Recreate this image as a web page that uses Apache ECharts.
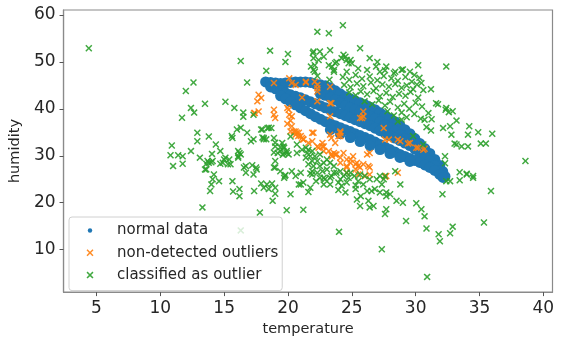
<!DOCTYPE html>
<html>
<head>
<meta charset="utf-8">
<script src="https://cdn.jsdelivr.net/npm/echarts@6.0.0/dist/echarts.min.js"></script>
<style>html,body{margin:0;padding:0;background:#fff}#c{width:564px;height:342px}</style>
</head>
<body>
<div id="c"></div>
<script>
// ---- Data ----
const xTicks = [5, 10, 15, 20, 25, 30, 35, 40];
const yTicks = [10, 20, 30, 40, 50, 60];
const seriesNames = ['normal data', 'non-detected outliers', 'classified as outlier'];

const normalData = [
  // upper strand with top loop
  [18.25,45.74],[18.64,45.64],[19.03,45.53],[19.42,45.42],[19.81,45.53],[20.20,45.64],[20.59,45.74],[20.98,45.74],[21.37,45.74],[21.76,45.64],
  [22.15,45.32],[22.54,45.11],[22.93,44.90],[23.32,44.47],[23.71,43.83],[24.10,43.20],[24.49,42.56],[24.88,42.14],[25.26,41.72],[25.65,41.29],
  [26.04,40.87],[26.43,40.34],[26.82,39.81],[27.21,39.18],[27.60,38.54],[27.99,37.90],[28.38,37.27],[28.77,36.42],[29.16,35.57],[29.55,34.72],
  [29.94,33.67],[30.33,32.61],[30.72,31.55],[31.11,30.49],[31.50,29.22],[31.89,27.94],[32.12,26.67],[32.30,25.60],
  // second strand
  [22.54,43.20],[22.93,42.88],[23.32,42.46],[23.71,41.93],[24.10,41.29],[24.49,40.66],[24.88,40.23],[25.26,39.81],[25.65,39.39],[26.04,38.96],
  [26.43,38.43],[26.82,37.90],[27.21,37.27],[27.60,36.63],[27.99,36.00],[28.38,35.36],[28.77,34.51],[29.16,33.67],[29.55,32.82],[29.94,31.76],[30.33,30.70],
  // middle strand
  [18.64,44.68],[19.03,44.26],[19.42,43.83],[19.81,43.41],[20.20,42.99],[20.59,42.67],[20.98,42.35],[21.37,41.93],[21.76,41.50],[22.15,41.08],
  [22.54,40.66],[22.93,40.23],[23.32,39.81],[23.71,39.39],[24.10,38.96],[24.49,38.54],[24.88,38.12],[25.26,37.69],[25.65,37.27],[26.04,36.84],
  [26.43,36.42],[26.82,35.89],[27.21,35.36],[27.60,34.83],[27.99,34.30],[28.38,33.77],[28.77,33.24],[29.16,32.71],[29.55,32.18],[29.94,31.44],
  [30.33,30.70],[30.72,29.85],[31.11,29.01],[31.50,27.94],[31.89,26.88],
  // lower strand
  [19.42,42.78],[19.81,42.14],[20.20,41.50],[20.59,40.87],[20.98,40.23],[21.37,39.60],[21.76,38.96],[22.15,38.33],[22.54,37.80],[22.93,37.27],
  [23.32,36.84],[23.71,36.42],[24.10,35.99],[24.49,35.57],[24.88,35.15],[25.26,34.72],[25.65,34.30],[26.04,33.88],[26.43,33.45],[26.82,32.92],
  [27.21,32.39],[27.60,31.86],[27.99,31.33],[28.38,30.80],[28.77,30.28],[29.16,29.85],[29.55,29.43],[29.94,29.01],[30.33,28.58],[30.72,28.05],
  [31.11,27.52],[31.50,26.88],[31.89,26.04],[32.15,25.40],
  // bottom strand
  [23.32,35.57],[24.10,34.72],[24.88,33.88],[25.65,33.03],[26.43,32.18],[27.21,31.33],[27.99,30.49],[28.77,29.64],[29.55,28.79]
];

const nonDetected = [
  [17.7,43.0],[17.9,42.3],[17.6,41.6],[17.4,39.1],[17.7,39.45],[18.9,39.8],[18.9,38.75],[19.0,38.05],[19.95,40.2],[20.1,38.75],
  [20.2,37.5],[19.95,36.8],[20.3,36.3],[20.6,35.2],[20.8,34.2],[18.9,45.5],[20.1,46.5],[20.3,45.5],
  [21.4,45.6],[22.3,45.1],[22.3,43.7],[23.3,44.7],[23.3,41.2],[21.1,42.4],[22.3,41.6],[20.7,34.9],[21.2,33.5],[21.9,34.9],
  [23.3,38.4],[24.1,35.2],[23.95,34.15],[23.4,33.8],[22.7,32.75],[25.65,38.05],[25.9,38.4],[25.9,39.45],
  [20.6,45.1],[21.4,45.8],[22.1,45.8],[22.3,44.4],[23.4,41.2],[25.8,38.05],[20.05,39.8],[20.3,38.4],[20.2,35.2],[21.0,34.2],[24.1,34.2],
  [22.8,32.0],[22.4,31.7],[23.7,32.75],[23.6,30.6],[23.45,29.9],[23.8,30.3],[24.1,28.5],[24.6,27.8],[25.4,28.5],[25.65,27.5],
  [25.9,28.2],[26.3,27.8],[26.4,30.6],[27.5,35.9],[27.6,33.45],[27.9,33.45],[28.6,33.45],[29.4,32.6],[30.05,31.7],[30.6,31.3],
  [28.6,26.4],[26.4,26.0],[26.05,25.7],[24.6,26.4],[25.5,26.0],[27.7,25.7],
  [28.8,33.1],[29.55,32.75],[30.2,31.7],[30.7,31.5],[26.2,30.3],[24.35,30.6],[24.9,29.2],[25.5,27.8],[26.4,27.5],[25.3,27.1],[27.6,25.55],
  [17.35,39.1],[20.45,35.2],[20.6,34.5],[20.85,34.9],[21.1,33.8],[21.2,33.45],[21.6,32.75],[21.9,33.1],[22.0,34.9],[22.3,32.0],
  [22.7,32.0],[22.8,31.0],[23.2,31.0],[23.3,34.5],[23.4,30.3],[23.7,30.3],[24.1,34.9],[24.1,29.6],[24.6,29.2],[24.9,28.5],
  [24.6,27.5],[25.3,28.2],[25.1,29.9]
];

const classified = [
  [4.4,52.9],
  [16.3,50.2],[18.6,52.4],[20.0,51.7],[19.8,50.0],[18.3,48.1],[16.8,45.6],[12.6,45.6],[12.0,43.8],[12.4,40.2],[12.65,39.2],
  [11.7,38.1],[13.5,41.1],[15.1,41.5],[15.8,40.2],[16.5,39.2],[16.5,38.3],[17.3,38.75],
  [16.3,36.0],[16.0,35.6],[15.6,34.2],[16.8,34.9],[17.3,33.5],[17.1,33.1],[17.9,35.6],[18.5,36.0],[18.7,35.9],[18.0,33.9],
  [18.3,33.5],[19.0,32.8],[18.9,30.7],[19.4,31.8],[19.65,32.0],[20.2,34.1],[18.9,33.8],[19.55,32.75],
  [12.9,34.9],[12.9,33.1],[13.8,34.1],[14.35,32.4],[14.7,31.0],[10.9,32.2],[10.8,30.1],[11.4,30.1],[11.75,29.9],[12.4,31.0],
  [11.0,27.8],[11.75,28.3],[13.1,29.6],[13.6,27.1],[13.8,28.5],[14.0,28.6],[14.9,28.5],[15.0,29.2],[15.4,29.2],[15.3,28.2],
  [16.2,30.6],[16.1,29.9],[16.55,27.5],[16.7,26.4],[17.2,28.0],[17.55,27.1],[14.2,26.0],[19.0,27.5],[19.8,25.9],[20.3,26.7],
  [19.6,30.2],[19.9,30.6],[20.7,32.4],
  [14.05,30.4],[13.6,28.3],[13.7,28.9],[14.1,28.9],[13.5,27.1],[15.1,29.6],[14.7,28.3],[15.5,28.2],[14.1,25.0],[14.0,23.9],
  [13.9,22.5],[14.6,24.6],[13.3,19.0],[15.65,24.6],[15.7,22.4],[16.2,22.9],[16.2,21.4],[16.1,31.0],[16.3,30.3],[16.1,29.6],
  [15.65,33.8],[18.1,33.8],
  [17.9,24.1],[18.1,23.2],[18.5,22.9],[18.35,23.9],[18.75,24.1],[19.0,23.2],[19.0,21.9],[17.35,22.5],[18.8,20.4],[17.8,17.9],
  [19.9,18.4],[20.2,21.8],[20.85,23.9],[21.0,26.4],[19.75,25.7],[19.7,31.7],[19.4,31.0],[19.2,30.6],[19.9,31.0],[20.05,30.3],
  [20.7,30.6],[16.3,14.1],
  [18.0,35.6],[18.4,35.9],[18.1,33.5],[19.0,32.0],[16.7,27.8],[17.5,27.5],[17.3,26.0],[18.9,27.5],[19.0,28.9],[19.7,30.6],
  [19.4,26.7],[20.6,25.7],[21.2,24.3],[21.75,23.2],[19.7,25.3],
  [21.2,18.5],[21.0,23.9],[21.6,22.3],[21.75,26.25],[21.9,26.7],[22.2,24.6],
  [22.8,25.3],[22.8,23.9],[23.3,25.3],[23.3,23.9],[23.6,26.4],[23.95,24.3],[23.95,22.7],[24.2,23.6],[24.5,22.2],[24.75,25.3],
  [25.3,23.7],[25.3,22.9],[25.5,24.6],[25.4,20.7],[25.65,19.3],[25.7,21.4],[25.9,23.9],[26.2,22.5],[26.3,20.4],[26.4,19.0],
  [26.7,19.3],[26.55,22.5],[26.8,22.9],[27.2,22.2],[27.35,23.9],[27.5,25.0],[27.7,21.4],[27.7,22.2],[28.0,21.8],[27.7,18.6],
  [27.6,17.6],[28.5,20.4],[28.8,23.9],[29.0,20.0],[28.4,26.7],[26.4,25.0],[26.95,25.0],[27.2,25.7],[27.6,25.7],[26.0,25.7],
  [25.65,26.0],[25.2,25.7],[24.6,26.4],[24.1,26.7],[24.0,13.8],[27.35,10.1],[29.25,16.1],[30.05,19.9],[30.45,18.6],[30.7,17.1],
  [30.85,14.5],[30.9,4.2],[31.8,13.3],[31.9,11.8],[32.7,13.5],[32.9,14.9],[32.1,21.8],[32.4,24.6],[32.7,24.6],[33.45,24.8],
  [34.0,26.2],[34.5,25.3],[35.9,22.5],[35.35,15.8],
  [24.3,57.8],[22.3,56.4],[23.2,56.1],[22.0,52.2],[22.5,52.2],[23.3,52.5],[22.8,51.1],[22.0,50.8],[21.8,49.0],[22.0,48.3],
  [22.3,47.0],[23.2,49.3],[23.45,49.0],[23.7,49.7],[23.6,48.3],[23.8,50.0],[24.2,50.8],[24.35,51.5],[24.6,50.4],[24.75,49.7],
  [21.95,51.9],[22.4,50.4],[22.1,49.3],[22.1,47.9],[23.6,47.9],[23.25,46.2],[24.9,50.4],[25.0,49.7],[24.5,51.1],
  [25.65,52.9],[26.4,50.8],[27.0,50.0],[27.7,49.0],[27.2,47.9],[28.4,47.9],[28.9,48.3],[29.55,47.9],[30.2,49.3],[32.4,49.0],
  [31.2,44.2],[30.45,45.5],[31.6,41.2],[32.4,40.2],[32.9,39.5],[32.15,35.9],[32.7,36.3],[32.8,34.5],[34.2,36.3],[34.1,34.5],
  [34.9,35.0],[36.0,34.7],[33.2,32.4],[33.6,32.0],[34.1,32.0],[35.1,32.6],[35.5,32.6],[32.3,29.9],[32.3,28.4],[38.6,28.9],
  [30.7,37.7],[31.0,39.1],[30.85,36.1],[29.8,34.2],[28.6,37.3],[28.9,37.7],[30.6,32.4],[34.0,26.0],[34.5,25.7],[33.45,26.5],
  [31.75,41.0],[32.35,39.8],[32.6,39.3],[31.25,37.8],[33.2,37.5],[31.2,35.4],[33.05,32.6],
  // dense cluster above the band
  [24.6,47.9],[25.5,48.6],[26.2,48.3],[26.9,49.0],[27.6,48.2],[28.3,47.6],[29.0,48.4],[29.9,47.2],[30.3,46.6],
  [24.3,46.8],[24.8,46.2],[25.3,47.2],[25.8,46.4],[26.4,46.9],[27.0,46.1],[27.5,47.0],[28.1,46.5],[28.6,46.0],[29.2,46.8],[29.7,45.8],[30.1,45.2],
  [24.4,45.1],[24.9,44.6],[25.4,45.4],[25.9,44.8],[26.5,45.6],[26.9,44.4],[27.4,45.2],[27.9,44.7],[28.4,45.3],[28.9,44.5],[29.3,45.0],[29.8,44.2],[30.6,44.0],
  [24.8,43.5],[25.3,42.9],[25.7,43.7],[26.2,43.1],[26.7,43.8],[27.2,42.7],[27.7,43.4],[28.2,42.5],[28.7,43.2],[29.2,42.8],[29.6,43.6],[30.2,42.4],
  [26.0,41.6],[26.6,41.0],[27.1,41.8],[27.6,40.7],[28.0,41.5],[28.6,40.3],[29.1,41.1],[29.5,40.0],[30.0,41.3],[30.5,40.5],
  [27.8,39.5],[28.3,38.6],[28.9,39.2],[29.3,38.2],[29.9,38.9],[30.4,37.9],
  // dense cluster below the band
  [21.1,31.3],[21.4,31.7],[21.6,31.3],[21.9,31.0],[21.5,30.6],[21.4,29.6],[21.75,29.9],[22.1,29.9],[22.5,30.3],[22.3,28.9],
  [21.9,28.9],[21.6,28.2],[22.0,27.8],[22.5,27.8],[22.8,28.5],[23.05,29.2],[23.3,28.5],[23.6,27.8],[23.05,27.1],[22.7,26.7],
  [22.3,26.4],[21.9,26.0],[22.5,25.3],[22.9,25.0],[23.4,25.7],[23.8,26.4],[24.1,25.0],[24.35,25.7],[24.6,24.3],[24.9,26.4]
];

// ---- Styling ----
const COLORS = ['#1f77b4', '#ff7f0e', '#2ca02c'];
const X_SYMBOL = 'path://M0,1.5L1.5,0L5,3.5L8.5,0L10,1.5L6.5,5L10,8.5L8.5,10L5,6.5L1.5,10L0,8.5L3.5,5Z';
const LEG_DOT = 'path://M0,0M40,14M20.2,7A2.2,2.2,0,1,1,15.8,7A2.2,2.2,0,1,1,20.2,7Z';
const LEG_X = 'path://M0,0M40,14M14.5,4.55L15.55,3.5L18,5.95L20.45,3.5L21.5,4.55L19.05,7L21.5,9.45L20.45,10.5L18,8.05L15.55,10.5L14.5,9.45L16.95,7Z';
const FONT = 'DejaVu Sans';
const AXIS_GRAY = '#8a8a8a';

const chart = echarts.init(document.getElementById('c'), null, {renderer: 'canvas'});
chart.setOption({
  animation: false,
  backgroundColor: '#ffffff',
  grid: {left: 62, top: 10, right: 11.5, bottom: 48.7, show: true, borderColor: AXIS_GRAY, borderWidth: 1.2, backgroundColor: 'transparent'},
  legend: {
    left: 69, top: 217, orient: 'vertical',
    padding: [6, 4, 8, 3],
    itemWidth: 40, itemHeight: 14, itemGap: 7.3,
    backgroundColor: 'rgba(255,255,255,0.8)',
    borderColor: '#d0d0d0', borderWidth: 1, borderRadius: 3,
    textStyle: {fontFamily: FONT, fontSize: 15, color: '#262626', lineHeight: 14},
    data: [
      {name: seriesNames[0], icon: LEG_DOT},
      {name: seriesNames[1], icon: LEG_X},
      {name: seriesNames[2], icon: LEG_X}
    ],
    z: 10
  },
  xAxis: {
    type: 'value', min: 2.42, max: 40.72,
    name: 'temperature', nameLocation: 'middle', nameGap: 29,
    nameTextStyle: {fontFamily: FONT, fontSize: 14.5, color: '#262626'},
    axisLine: {show: true, lineStyle: {color: AXIS_GRAY, width: 1.2}},
    axisTick: {show: true, length: 4, customValues: xTicks, lineStyle: {color: '#555', width: 1}},
    axisLabel: {customValues: xTicks, fontFamily: FONT, fontSize: 17, color: '#262626', margin: 8},
    splitLine: {show: false}
  },
  yAxis: {
    type: 'value', min: 0.96, max: 61.06,
    name: 'humidity', nameLocation: 'middle', nameGap: 33,
    nameTextStyle: {fontFamily: FONT, fontSize: 14.5, color: '#262626'},
    axisLine: {show: true, lineStyle: {color: AXIS_GRAY, width: 1.2}},
    axisTick: {show: true, length: 4, customValues: yTicks, lineStyle: {color: '#555', width: 1}},
    axisLabel: {customValues: yTicks, fontFamily: FONT, fontSize: 17, color: '#262626', margin: 8},
    splitLine: {show: false}
  },
  series: [
    {name: seriesNames[0], type: 'scatter', data: normalData, symbol: 'circle', symbolSize: 11,
     itemStyle: {color: COLORS[0], opacity: 1}, z: 2},
    {name: seriesNames[1], type: 'scatter', data: nonDetected, symbol: X_SYMBOL, symbolSize: 7,
     itemStyle: {color: COLORS[1], opacity: 0.9}, z: 3},
    {name: seriesNames[2], type: 'scatter', data: classified, symbol: X_SYMBOL, symbolSize: 7,
     itemStyle: {color: COLORS[2], opacity: 0.9}, z: 4}
  ]
});
</script>
</body>
</html>
